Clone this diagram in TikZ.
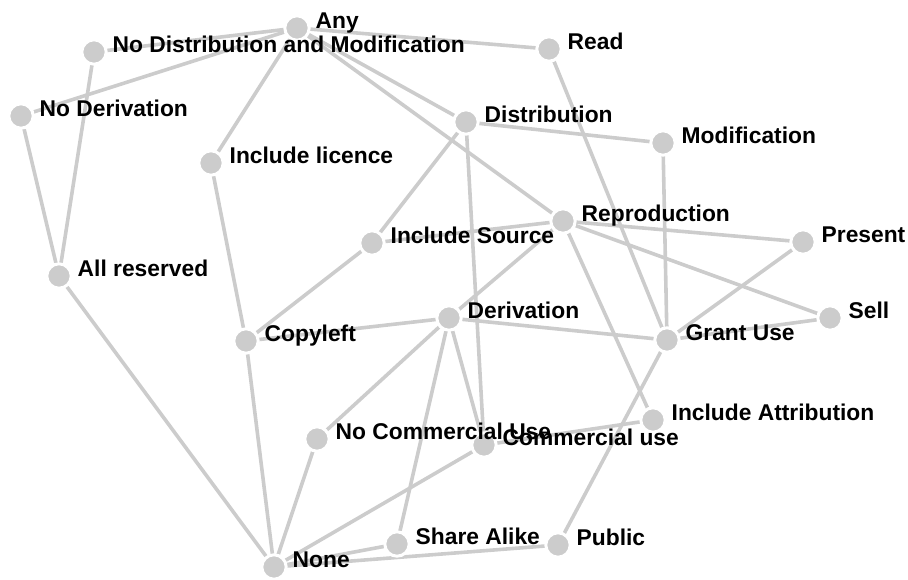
\documentclass[tikz,border=0pt]{standalone}
\usepackage{fontspec}
\setmainfont{Liberation Sans}
\pgfdeclarelayer{background}
\pgfsetlayers{background,main}
\definecolor{linkgray}{HTML}{CCCCCC}

% name/x/y/label of each node
\def\licnodes{
    any/297/28/Any,
    nodm/94/52/No Distribution and Modification,
    noder/21/116/No Derivation,
    inclic/211/163/Include licence,
    read/549/49/Read,
    distr/466/122/Distribution,
    modif/663/143/Modification,
    repro/563/221/Reproduction,
    present/803/242/Present,
    sell/830/318/Sell,
    grant/667/340/Grant Use,
    incsrc/372/243/Include Source,
    copyleft/246/341/Copyleft,
    deriv/449/318/Derivation,
    allres/59/276/All reserved,
    none/274/567/None,
    noncomm/317/439/No Commercial Use,
    comm/484/445/Commercial use,
    share/397/544/Share Alike,
    public/558/545/Public,
    incattr/653/420/Include Attribution}

\begin{document}
\begin{tikzpicture}[x=1pt, y=-1pt]
        % Style definitions
        \tikzset{
            dot/.style={circle, fill=linkgray, draw=white, line width=3pt, minimum size=24.4pt, inner sep=0pt},
            lbl/.style={anchor=base west, inner sep=0pt, font=\fontsize{22.8}{27}\selectfont\bfseries},
            link/.style={draw=linkgray, line width=3.6pt}
        }
        \useasboundingbox (0,0) rectangle (908,579);

        % Nodes
        \foreach \n/\x/\y/\t in \licnodes
            \node [dot] (\n) at (\x,\y) {};

        % Labels, right of each node
        \foreach \n/\x/\y/\t in \licnodes
            \node [lbl] (\n-lbl) at ([xshift=18.5pt]\n.center) {\t};

        % Connections (behind the nodes)
        \begin{pgfonlayer}{background}
            \foreach \a/\b in {
                any/nodm, any/noder, any/inclic, any/read, any/distr, any/repro,
                nodm/allres, noder/allres, allres/none,
                inclic/copyleft,
                distr/modif, distr/incsrc, distr/comm,
                read/grant, modif/grant,
                repro/present, repro/sell, repro/incattr, repro/deriv, repro/incsrc,
                present/grant, sell/grant, deriv/grant,
                incsrc/copyleft, copyleft/deriv, copyleft/none,
                deriv/noncomm, deriv/share, deriv/comm,
                noncomm/none, comm/none, share/none, none/public,
                comm/incattr, public/grant}
                \draw [link] (\a.center) -- (\b.center);
        \end{pgfonlayer}
\end{tikzpicture}
\end{document}
